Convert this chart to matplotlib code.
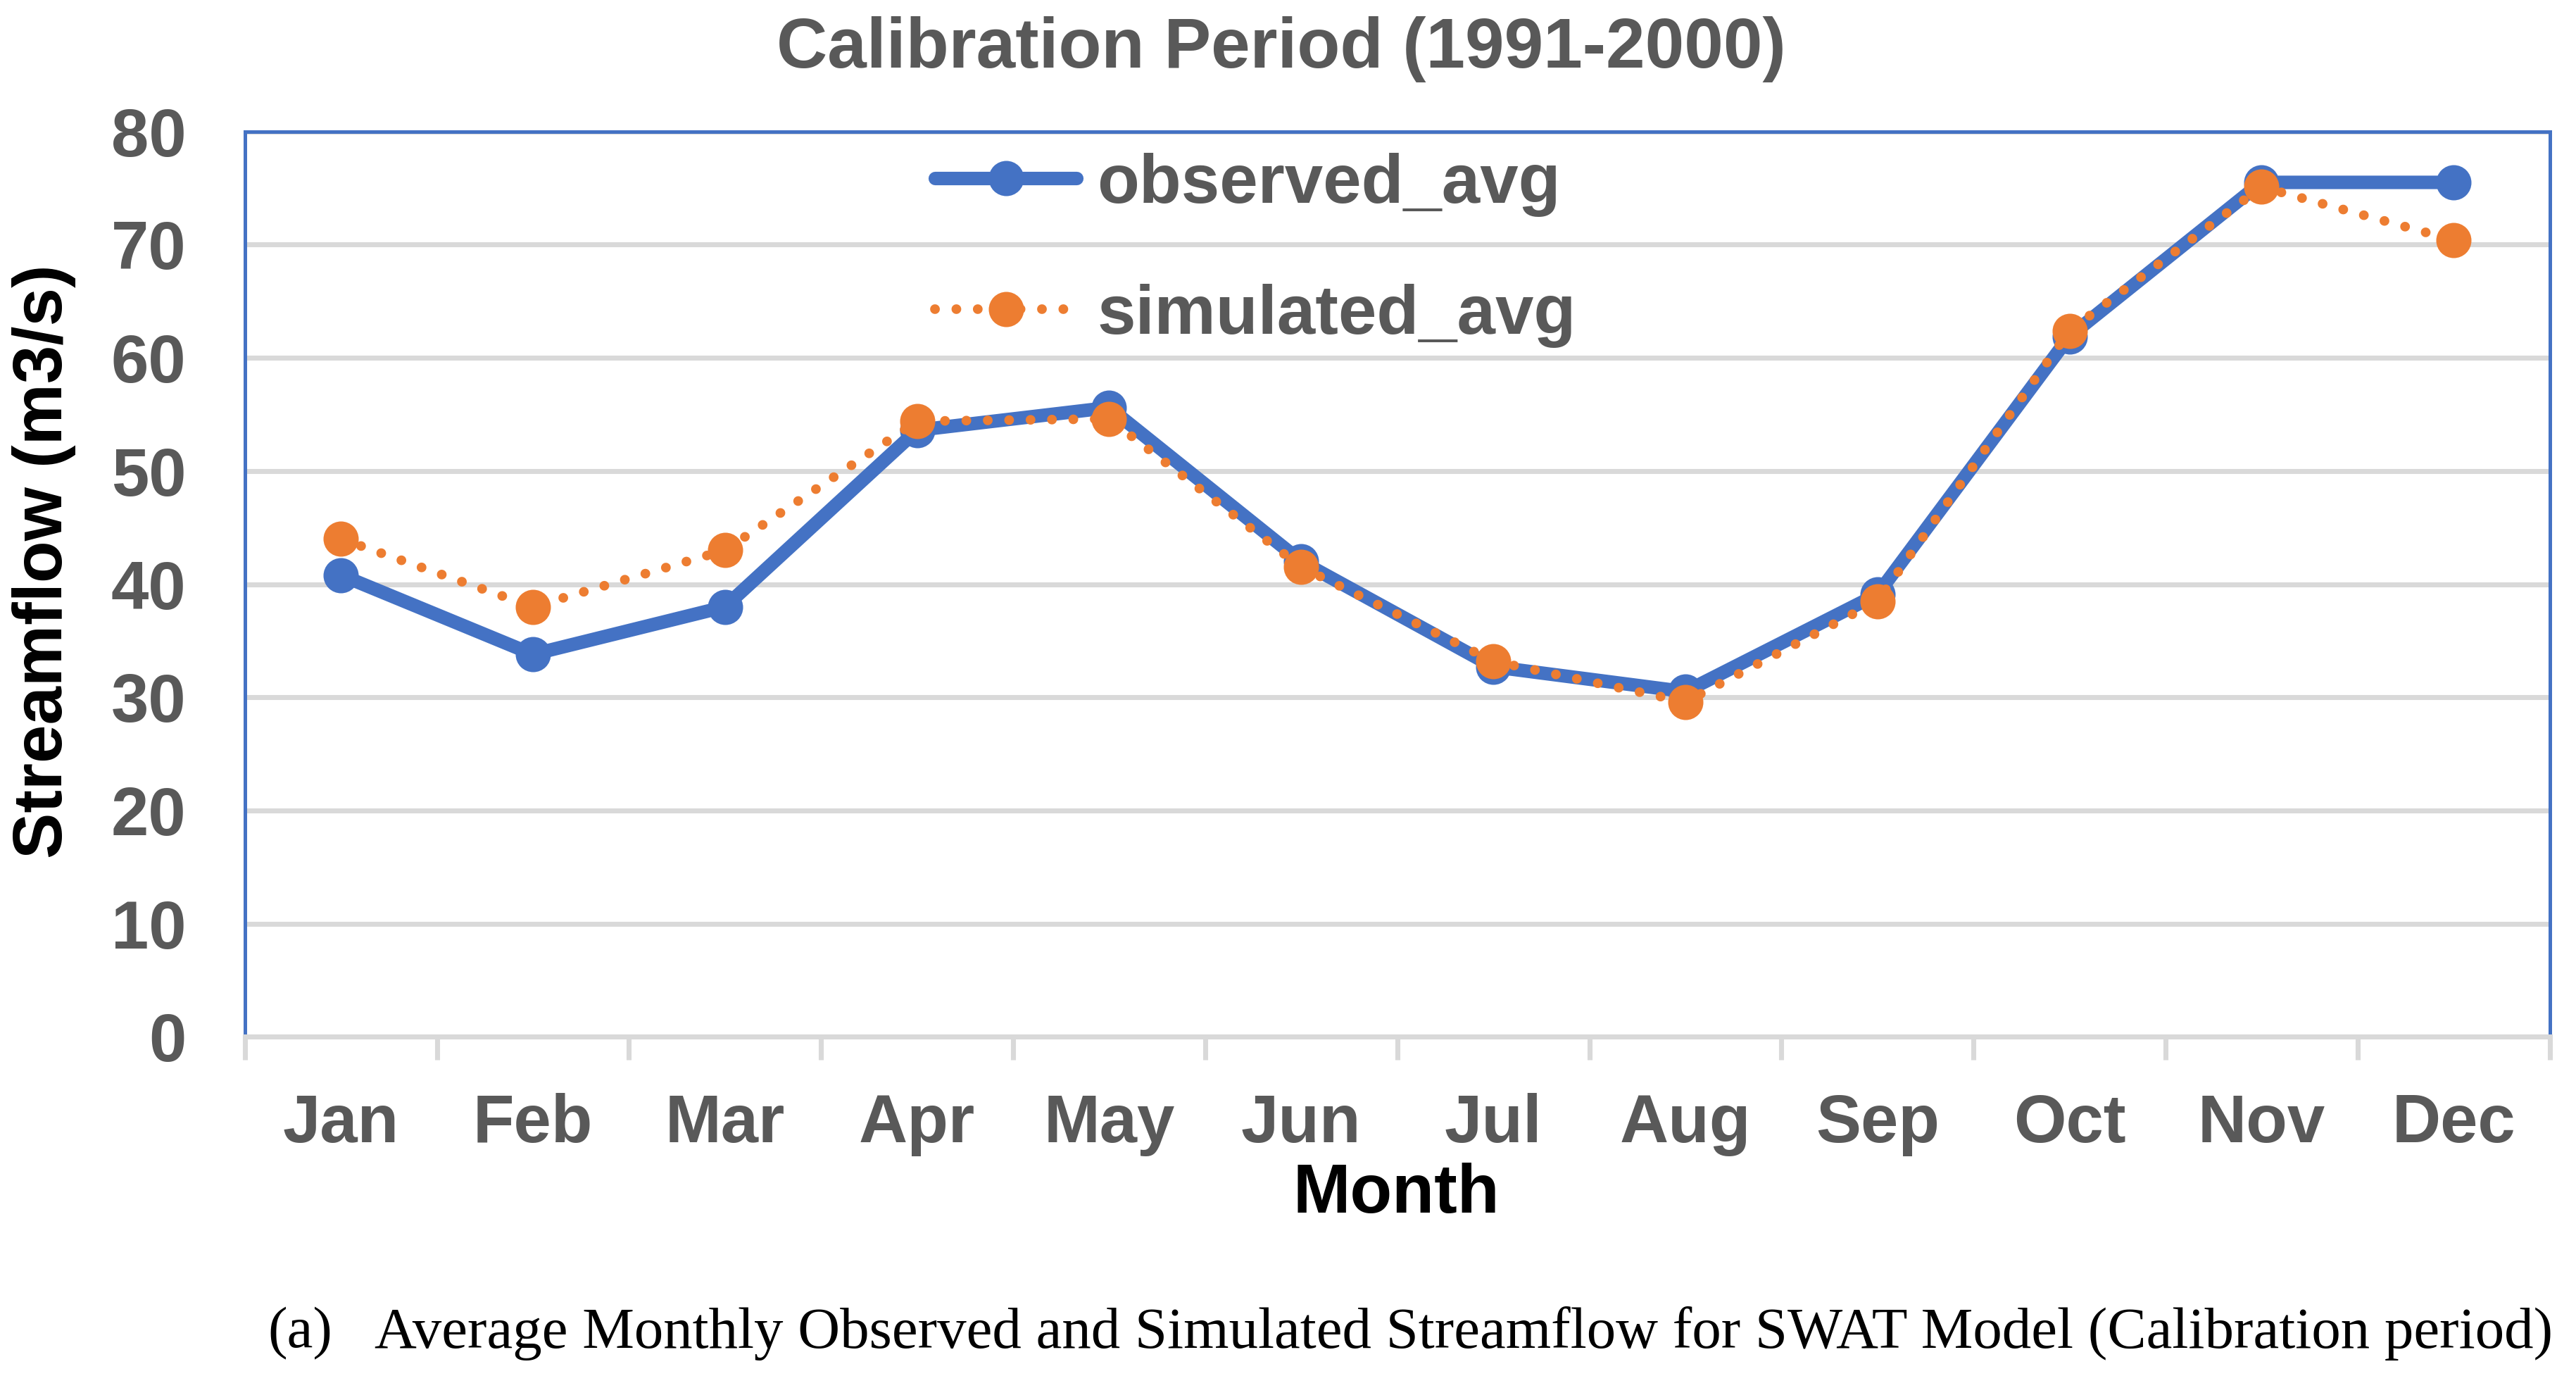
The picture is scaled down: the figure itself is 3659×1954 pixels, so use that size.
import matplotlib
matplotlib.use("Agg")
import matplotlib.pyplot as plt
import numpy as np

months = ["Jan", "Feb", "Mar", "Apr", "May", "Jun", "Jul", "Aug", "Sep", "Oct", "Nov", "Dec"]
observed_avg = [40.8, 33.8, 38.0, 53.6, 55.6, 42.0, 32.7, 30.5, 39.1, 61.9, 75.5, 75.5]
simulated_avg = [44.0, 38.0, 43.0, 54.4, 54.6, 41.5, 33.2, 29.6, 38.5, 62.4, 75.1, 70.4]
yticks = [0, 10, 20, 30, 40, 50, 60, 70, 80]

title = "Calibration Period (1991-2000)"
xlabel = "Month"
ylabel = "Streamflow (m3/s)"
caption_tag = "(a)"
caption = "Average Monthly Observed and Simulated Streamflow for SWAT Model (Calibration period)"

BLUE = "#4472C4"
ORANGE = "#ED7D31"
GRAY = "#595959"
GRID = "#D9D9D9"

plt.rcParams['font.family'] = ['Liberation Sans', 'DejaVu Sans']

fig = plt.figure(figsize=(3659/300, 1954/300), dpi=300)
ax = fig.add_axes([0.09503, 0.24648, 0.89477, 0.65799])

x = np.arange(len(months))
ax.plot(x, observed_avg, color=BLUE, lw=4.6, marker='o', ms=11,
        solid_capstyle='round', solid_joinstyle='round',
        label="observed_avg", zorder=3)
ax.plot(x, simulated_avg, color=ORANGE, lw=3.3, marker='o', ms=11,
        linestyle=(0, (0.01, 2.2)), dash_capstyle='round',
        label="simulated_avg", zorder=4)

ax.set_xlim(-0.5, len(months) - 0.5)
ax.set_ylim(0, 80)
ax.set_yticks(yticks)
ax.set_xticks(x)
ax.set_xticklabels(months)
ax.set_xticks(np.arange(len(months) + 1) - 0.5, minor=True)

ax.yaxis.grid(True, color=GRID, lw=1.7, zorder=0)
ax.set_axisbelow(True)

for side in ['top', 'left', 'right']:
    ax.spines[side].set_color(BLUE)
    ax.spines[side].set_linewidth(1.2)
ax.spines['bottom'].set_color(GRID)
ax.spines['bottom'].set_linewidth(1.7)

ax.tick_params(axis='x', which='major', length=0, pad=19, labelsize=23,
               labelcolor=GRAY)
ax.tick_params(axis='x', which='minor', length=8, width=1.7, color=GRID)
ax.tick_params(axis='y', length=0, pad=20, labelsize=23, labelcolor=GRAY)
for lab in ax.get_xticklabels() + ax.get_yticklabels():
    lab.set_fontweight('bold')

fig.text(0.4974, 0.964, title, ha='center', va='center', fontsize=24,
         fontweight='bold', color=GRAY)
fig.text(0.5421, 0.1316, xlabel, ha='center', va='center', fontsize=23.5,
         fontweight='bold', color='black')
fig.text(0.0172, 0.592, ylabel, ha='center', va='center', rotation=90,
         fontsize=23.5, fontweight='bold', color='black')

fig.text(0.104, 0.031, caption_tag, ha='left', va='center', fontsize=19.9,
         family=['Liberation Serif', 'DejaVu Serif'], color='black')
fig.text(0.1454, 0.031, caption, ha='left', va='center', fontsize=19.9,
         family=['Liberation Serif', 'DejaVu Serif'], color='black')

leg = ax.legend(loc='upper left', bbox_to_anchor=(0.2935, 0.992), frameon=False,
                prop={'weight': 'bold', 'size': 23.5}, labelcolor=GRAY,
                handlelength=2.05, handletextpad=0.3, labelspacing=0.97,
                borderpad=0.2, borderaxespad=0)

fig.savefig("out.png", dpi=300)
